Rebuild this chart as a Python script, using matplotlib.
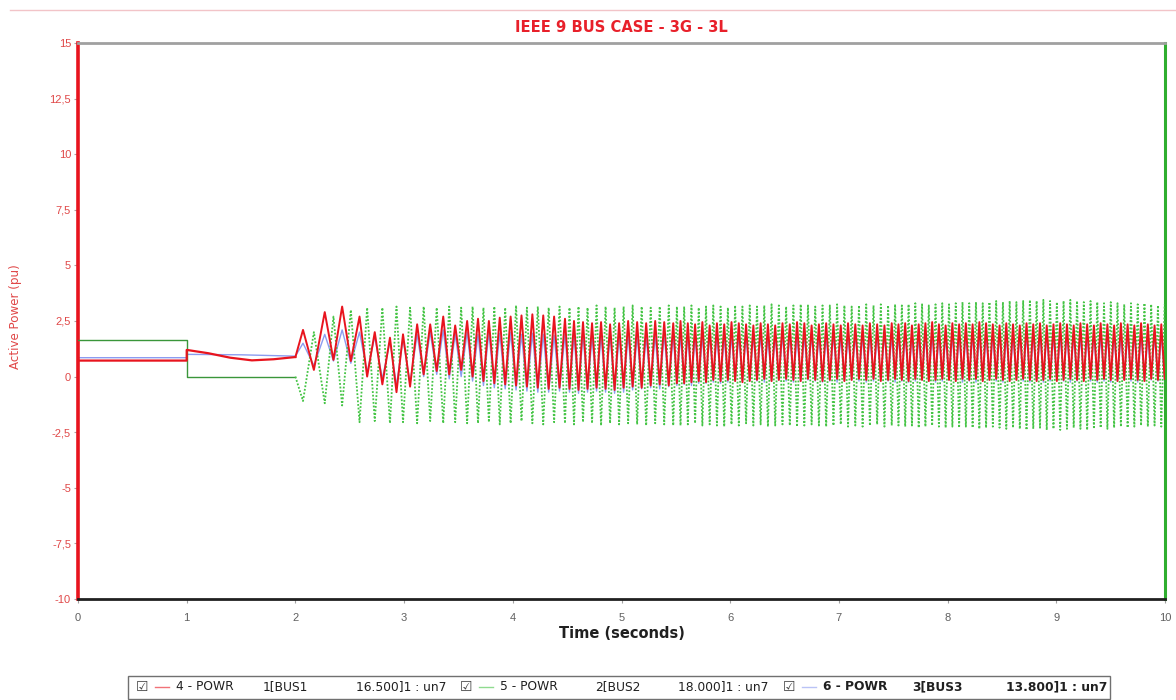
import numpy as np
import matplotlib
matplotlib.use("Agg")
import matplotlib.pyplot as plt
from matplotlib.lines import Line2D
from matplotlib.patches import Rectangle

plt.rcParams['font.family'] = ['Liberation Sans', 'DejaVu Sans']

# ---- data -------------------------------------------------------------
# steady / pre-oscillation parts (time in s, active power in pu)
red_pre_t = [0.0, 1.0, 1.0, 1.2, 1.4, 1.6, 1.8, 2.0]
red_pre_v = [0.72, 0.72, 1.20, 1.05, 0.85, 0.73, 0.78, 0.88]
green_pre_t = [0.0, 1.0, 1.0, 2.0]
green_pre_v = [1.63, 1.63, 0.0, 0.0]
blue_pre_t = [0.0, 1.0, 1.0, 1.5, 2.0]
blue_pre_v = [0.85, 0.85, 1.00, 0.98, 0.92]

# swing instants: the first ones individually, then runs at a steady period
swing_early_t = [2.07, 2.27, 2.43, 2.59, 2.73, 2.87, 2.99, 3.12, 3.24, 3.36, 3.47, 3.58]
swing_run_counts = [9, 12, 30, 40]
swing_run_periods = [0.100, 0.083, 0.067, 0.062]

# gen 1 (red): maxima at swing instants, minima between them
red_hi = [2.1, 2.9, 3.15, 2.7, 2.0, 1.75, 1.9, 2.35, 2.35, 2.7, 2.3, 2.5,
          2.6, 2.5, 2.65, 2.7, 2.75, 2.8, 2.75, 2.7, 2.6,
          2.5, 2.45, 2.4, 2.45, 2.35, 2.4, 2.5, 2.45, 2.4, 2.5, 2.45, 2.4,
          2.5, 2.4, 2.35, 2.45, 2.3, 2.4, 2.35, 2.45, 2.4, 2.35,
          2.3, 2.4, 2.35, 2.3, 2.4, 2.35, 2.45, 2.4, 2.3, 2.35,
          2.4, 2.35, 2.3, 2.4, 2.35, 2.3, 2.4, 2.35, 2.3, 2.4,
          2.35, 2.4, 2.3, 2.35, 2.4, 2.45, 2.35, 2.3, 2.4, 2.35,
          2.4, 2.35, 2.45, 2.4, 2.35, 2.3, 2.4, 2.35, 2.3, 2.4,
          2.35, 2.4, 2.3, 2.35, 2.4, 2.35, 2.3, 2.4, 2.35, 2.3,
          2.4, 2.35, 2.3, 2.4, 2.35, 2.3, 2.4, 2.35, 2.3, 2.35]
red_lo = [0.3, 0.75, 0.7, 0.0, -0.35, -0.7, -0.45, 0.1, 0.25, 0.1, 0.3, 0.0,
          -0.2, -0.3, -0.35, -0.4, -0.45, -0.5, -0.55, -0.5, -0.55,
          -0.6, -0.55, -0.5, -0.55, -0.6, -0.5, -0.45, -0.5, -0.4, -0.35, -0.4, -0.3,
          -0.3, -0.25, -0.2, -0.25, -0.15, -0.2, -0.15, -0.2, -0.25, -0.2,
          -0.15, -0.1, -0.2, -0.15, -0.1, -0.15, -0.2, -0.1, -0.15, -0.2,
          -0.15, -0.1, -0.2, -0.15, -0.1, -0.15, -0.1, -0.2, -0.15, -0.1,
          -0.15, -0.2, -0.1, -0.15, -0.2, -0.15, -0.1, -0.15, -0.2, -0.1,
          -0.15, -0.1, -0.2, -0.15, -0.1, -0.15, -0.2, -0.15, -0.1, -0.15,
          -0.2, -0.15, -0.1, -0.2, -0.15, -0.1, -0.15, -0.2, -0.1, -0.15,
          -0.1, -0.15, -0.2, -0.15, -0.1, -0.15, -0.2, -0.1, -0.15, -0.1]

# gen 2 (green): minima at swing instants, maxima between them
green_lo = [-1.1, -1.2, -1.3, -2.05, -2.0, -2.1, -2.05, -2.1, -2.0, -2.1, -2.05, -2.1,
            -2.1, -2.05, -2.15, -2.1, -2.0, -2.1, -2.15, -2.05, -2.1,
            -2.15, -2.05, -2.1, -2.2, -2.1, -2.15, -2.1, -2.15, -2.2, -2.1, -2.15, -2.2,
            -2.2, -2.15, -2.1, -2.2, -2.15, -2.2, -2.25, -2.15, -2.2, -2.1,
            -2.2, -2.15, -2.25, -2.2, -2.15, -2.2, -2.25, -2.2, -2.15, -2.2,
            -2.25, -2.2, -2.15, -2.25, -2.2, -2.25, -2.2, -2.15, -2.25, -2.2,
            -2.2, -2.25, -2.2, -2.3, -2.25, -2.2, -2.25, -2.3, -2.25, -2.3,
            -2.25, -2.3, -2.35, -2.3, -2.25, -2.3, -2.35, -2.3, -2.35, -2.4,
            -2.35, -2.3, -2.4, -2.35, -2.4, -2.35, -2.3, -2.35, -2.4, -2.35,
            -2.3, -2.35, -2.3, -2.25, -2.3, -2.25, -2.2, -2.25, -2.2, -2.25]
green_hi = [2.0, 2.7, 3.0, 3.1, 3.1, 3.15, 3.1, 3.15, 3.1, 3.15, 3.1, 3.15,
            3.1, 3.15, 3.1, 3.2, 3.1, 3.15, 3.1, 3.15, 3.1,
            3.15, 3.1, 3.2, 3.15, 3.1, 3.15, 3.2, 3.15, 3.1, 3.15, 3.2, 3.15,
            3.15, 3.2, 3.1, 3.15, 3.2, 3.15, 3.1, 3.2, 3.15, 3.2,
            3.15, 3.2, 3.25, 3.2, 3.15, 3.2, 3.25, 3.2, 3.15, 3.2,
            3.2, 3.25, 3.2, 3.15, 3.2, 3.25, 3.2, 3.25, 3.2, 3.25,
            3.2, 3.25, 3.3, 3.25, 3.2, 3.25, 3.3, 3.25, 3.3, 3.35,
            3.3, 3.35, 3.3, 3.35, 3.4, 3.35, 3.4, 3.35, 3.4, 3.45,
            3.4, 3.45, 3.4, 3.35, 3.4, 3.45, 3.4, 3.35, 3.4, 3.35,
            3.3, 3.35, 3.3, 3.25, 3.3, 3.25, 3.3, 3.25, 3.2, 3.25]

# gen 3 (blue): maxima at swing instants, minima between them
blue_hi = [1.5, 1.9, 2.1, 2.0, 1.8, 1.6, 1.7, 1.9, 2.0, 2.1, 1.9, 2.0,
           1.9, 2.0, 1.95, 2.0, 1.9, 1.95, 1.9, 1.85, 1.9,
           1.85, 1.9, 1.8, 1.85, 1.9, 1.85, 1.9, 1.85, 1.8, 1.85, 1.9, 1.85,
           1.85, 1.9, 1.8, 1.85, 1.9, 1.85, 1.8, 1.85, 1.9, 1.85,
           1.85, 1.9, 1.8, 1.85, 1.9, 1.85, 1.8, 1.85, 1.9, 1.85,
           1.85, 1.9, 1.8, 1.85, 1.9, 1.85, 1.8, 1.85, 1.9, 1.85,
           1.85, 1.9, 1.85, 1.8, 1.85, 1.9, 1.85, 1.8, 1.85, 1.9,
           1.85, 1.9, 1.85, 1.8, 1.85, 1.9, 1.85, 1.8, 1.85, 1.9,
           1.85, 1.9, 1.85, 1.8, 1.85, 1.9, 1.85, 1.8, 1.85, 1.9,
           1.85, 1.9, 1.85, 1.8, 1.85, 1.9, 1.85, 1.8, 1.85, 1.9]
blue_lo = [0.5, 0.7, 0.6, 0.2, -0.1, -0.4, -0.3, 0.0, 0.1, -0.1, 0.0, -0.2,
           -0.4, -0.5, -0.55, -0.6, -0.65, -0.7, -0.7, -0.65, -0.7,
           -0.75, -0.7, -0.65, -0.7, -0.75, -0.7, -0.6, -0.55, -0.5, -0.55, -0.45, -0.4,
           -0.35, -0.4, -0.3, -0.3, -0.25, -0.3, -0.25, -0.2, -0.25, -0.2,
           -0.2, -0.25, -0.2, -0.15, -0.2, -0.25, -0.2, -0.15, -0.2, -0.25,
           -0.2, -0.25, -0.2, -0.15, -0.2, -0.25, -0.2, -0.15, -0.2, -0.25,
           -0.2, -0.25, -0.2, -0.15, -0.2, -0.25, -0.2, -0.15, -0.2, -0.25,
           -0.2, -0.25, -0.2, -0.15, -0.2, -0.25, -0.2, -0.15, -0.2, -0.25,
           -0.2, -0.25, -0.2, -0.15, -0.2, -0.25, -0.2, -0.15, -0.2, -0.25,
           -0.2, -0.25, -0.2, -0.15, -0.2, -0.25, -0.2, -0.15, -0.2, -0.25]

y_ticks = [-10, -7.5, -5, -2.5, 0, 2.5, 5, 7.5, 10, 12.5, 15]
y_tick_labels = ["-10", "-7,5", "-5", "-2,5", "0", "2,5", "5", "7,5", "10", "12,5", "15"]
x_ticks = [0, 1, 2, 3, 4, 5, 6, 7, 8, 9, 10]

legend_entries = [
    ("4 - POWR", "1[BUS1", "16.500]1 : un7", "normal"),
    ("5 - POWR", "2[BUS2", "18.000]1 : un7", "normal"),
    ("6 - POWR", "3[BUS3", "13.800]1 : un7", "bold"),
]

# ---- build oscillation traces ------------------------------------------
swing_t = list(swing_early_t)
for count, period in zip(swing_run_counts, swing_run_periods):
    for _ in range(count):
        swing_t.append(swing_t[-1] + period)
swing_t = np.array(swing_t)
next_t = np.append(swing_t[1:], swing_t[-1] + swing_run_periods[-1])
mid_t = (swing_t + next_t) / 2.0


def interleave(a, b):
    out = np.empty(len(a) + len(b))
    out[0::2] = a
    out[1::2] = b
    return out


osc_t = interleave(swing_t, mid_t)
red_osc = interleave(red_hi, red_lo)
green_osc = interleave(green_lo, green_hi)
blue_osc = interleave(blue_hi, blue_lo)

# ---- figure -------------------------------------------------------------
W, H = 1176, 700
fig = plt.figure(figsize=(W / 100, H / 100), dpi=100)
fig.patch.set_facecolor("white")


def fx(px):
    return px / W


def fy(py):
    return 1 - py / H


ax = fig.add_axes([fx(78), fy(599), fx(1165) - fx(78), fy(43) - fy(599)])

RED = "#e8141e"
GREEN = "#45c445"
BLUE = "#8c9cf0"

ax.plot(blue_pre_t, blue_pre_v, color=BLUE, lw=1.0, zorder=2)
ax.plot([blue_pre_t[-1]] + list(osc_t), [blue_pre_v[-1]] + list(blue_osc),
        color=BLUE, lw=1.0, zorder=2)
ax.plot(green_pre_t, green_pre_v, color="#3a963a", lw=1.0, zorder=3)
ax.plot([green_pre_t[-1]] + list(osc_t), [green_pre_v[-1]] + list(green_osc),
        color=GREEN, lw=1.3, ls=(0, (1.0, 1.0)), zorder=3)
ax.plot(red_pre_t, red_pre_v, color=RED, lw=1.6, zorder=4)
ax.plot([red_pre_t[-1]] + list(osc_t), [red_pre_v[-1]] + list(red_osc),
        color=RED, lw=1.4, zorder=4)

ax.set_xlim(0, 10)
ax.set_ylim(-10, 15)
ax.set_xticks(x_ticks)
ax.set_xticklabels([str(v) for v in x_ticks])
ax.set_yticks(y_ticks)
ax.set_yticklabels(y_tick_labels)
ax.tick_params(axis="y", colors="#b0a0a0", labelcolor="#e04848", labelsize=8,
               length=3, width=0.8, pad=2)
ax.tick_params(axis="x", colors="#a0a0a0", labelcolor="#606060", labelsize=8,
               length=3, width=0.8, pad=7)

ax.spines["left"].set_color("#e8141e")
ax.spines["left"].set_linewidth(2.6)
ax.spines["right"].set_color("#2fae2f")
ax.spines["right"].set_linewidth(2.2)
ax.spines["top"].set_color("#a0a0a0")
ax.spines["top"].set_linewidth(2.0)
ax.spines["bottom"].set_color("#202020")
ax.spines["bottom"].set_linewidth(2.0)

# window frame line at the very top
fig.add_artist(Line2D([fx(10), 1.0], [fy(9.5), fy(9.5)], color="#f2c4c8", lw=1.0))

fig.text(fx(621.5), fy(27), "IEEE 9 BUS CASE - 3G - 3L", color="#e8202a",
         fontsize=10.6, fontweight="bold", ha="center", va="center",
         family=["DejaVu Sans"])
fig.text(fx(621.5), fy(634), "Time (seconds)", color="#202020",
         fontsize=10.5, fontweight="bold", ha="center", va="center",
         family=["DejaVu Sans"])
fig.text(fx(16), fy(317), "Active Power (pu)", color="#e04848", fontsize=8.6,
         rotation=90, ha="center", va="center", family=["DejaVu Sans"])

# legend bar
fig.add_artist(Rectangle((fx(128), fy(699)), fx(1110) - fx(128), fy(676) - fy(699),
                         facecolor="white", edgecolor="#707070", lw=1.0))
box_x = [136, 460, 783]
name_x = [176, 500, 823]
bus_x = [263, 595, 912]
kv_x = [356, 678, 1006]
line_cols = [RED, GREEN, BLUE]
for i, (name, bus, kv, weight) in enumerate(legend_entries):
    fig.text(fx(box_x[i]), fy(687), "\u2611", fontsize=10, color="#404040",
             ha="left", va="center", family=["DejaVu Sans"])
    fig.add_artist(Line2D([fx(box_x[i] + 19), fx(box_x[i] + 33)], [fy(687), fy(687)],
                          color=line_cols[i], lw=1.0, alpha=0.6))
    for xpos, txt in zip((name_x[i], bus_x[i], kv_x[i]), (name, bus, kv)):
        fig.text(fx(xpos), fy(687), txt, fontsize=8.8, color="#202020",
                 ha="left", va="center", fontweight=weight,
                 family=["DejaVu Sans"])

fig.savefig("out.png", dpi=100, facecolor="white")
